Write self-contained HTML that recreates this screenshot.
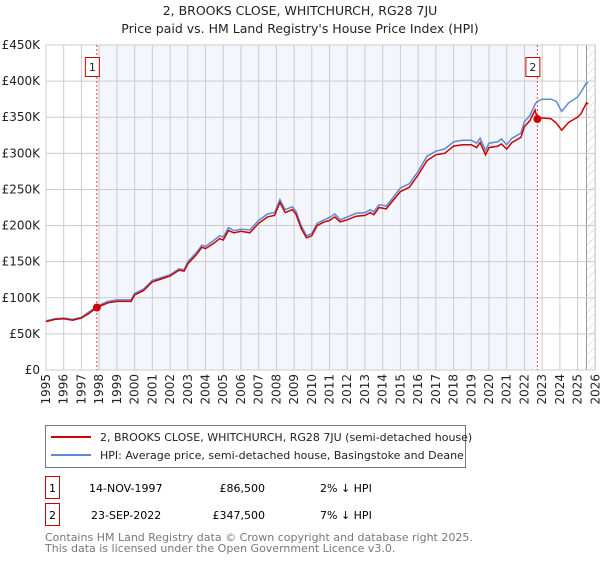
<!DOCTYPE html>
<html><head><meta charset="utf-8"><style>
body{margin:0;background:#fff;font-family:"DejaVu Sans","Liberation Sans",sans-serif;}
svg text{font-family:"DejaVu Sans","Liberation Sans",sans-serif;}
</style></head><body>
<svg id="chart" width="600" height="560" xmlns="http://www.w3.org/2000/svg">
<defs><pattern id="hatch" width="6" height="6" patternUnits="userSpaceOnUse" patternTransform="rotate(45)"><line x1="0" y1="0" x2="0" y2="6" stroke="#ccc" stroke-width="1"/></pattern></defs>
<text x="300" y="15" text-anchor="middle" font-size="12.5" fill="#222">2, BROOKS CLOSE, WHITCHURCH, RG28 7JU</text>
<text x="300" y="33" text-anchor="middle" font-size="12.5" fill="#222">Price paid vs. HM Land Registry's House Price Index (HPI)</text>
<g id="grid"></g><g id="series"></g><g id="axes"></g>
<rect x="45.5" y="425.5" width="420" height="42" fill="#fff" stroke="#777"/>
<g><line x1="51" y1="437" x2="91" y2="437" stroke="#cc0000" stroke-width="2"/><text x="100" y="441" font-size="11" fill="#222">2, BROOKS CLOSE, WHITCHURCH, RG28 7JU (semi-detached house)</text></g>
<g><line x1="51" y1="455" x2="91" y2="455" stroke="#5b8bd0" stroke-width="2"/><text x="100" y="459" font-size="11" fill="#222">HPI: Average price, semi-detached house, Basingstoke and Deane</text></g>
<g><rect x="45.5" y="476.5" width="14" height="22" fill="#fff" stroke="#c00"/><text x="52.5" y="492" text-anchor="middle" font-size="11">1</text><text x="89" y="492" font-size="11">14-NOV-1997</text><text x="265" y="492" text-anchor="end" font-size="11">£86,500</text><text x="320" y="492" font-size="11">2% ↓ HPI</text></g>
<g><rect x="45.5" y="503.5" width="14" height="22" fill="#fff" stroke="#c00"/><text x="52.5" y="519" text-anchor="middle" font-size="11">2</text><text x="91" y="519" font-size="11">23-SEP-2022</text><text x="265" y="519" text-anchor="end" font-size="11">£347,500</text><text x="320" y="519" font-size="11">7% ↓ HPI</text></g>
<text x="45" y="541" font-size="11" fill="#777">Contains HM Land Registry data © Crown copyright and database right 2025.</text>
<text x="45" y="552" font-size="11" fill="#777">This data is licensed under the Open Government Licence v3.0.</text>
</svg>
<script>
const years=[1995,1995.5,1996,1996.5,1997,1997.4,1997.87,1998.2,1998.5,1999,1999.5,1999.8,2000,2000.5,2001,2001.5,2002,2002.5,2002.8,2003,2003.5,2003.8,2004,2004.5,2004.8,2005,2005.3,2005.6,2006,2006.5,2007,2007.5,2007.9,2008.2,2008.5,2008.9,2009.1,2009.4,2009.7,2010,2010.3,2010.7,2011,2011.3,2011.6,2012,2012.5,2013,2013.3,2013.5,2013.8,2014.2,2014.5,2015,2015.5,2016,2016.5,2017,2017.5,2018,2018.5,2019,2019.3,2019.5,2019.8,2020,2020.5,2020.7,2021,2021.3,2021.8,2022,2022.3,2022.6,2022.73,2023,2023.5,2023.8,2024.1,2024.5,2025,2025.2,2025.5,2025.6];
const priceSeries=[67,70,71,69,72,78,86.5,90,93,95,95,95,104,110,122,126,130,138,137,147,160,170,168,176,182,180,193,190,192,190,203,212,214,232,218,222,216,196,183,186,200,205,207,212,205,208,213,214,218,215,225,223,232,247,253,270,290,298,300,310,312,312,308,315,298,308,310,313,306,315,322,337,345,360,347.5,349,348,342,332,343,350,355,370,368];
const hpiSeries=[68,71,72,70,73,80,88,92,95,97,97,97,106,112,124,128,132,140,139,150,163,173,171,180,186,184,197,193,195,194,207,216,218,236,222,226,220,200,186,189,203,208,211,216,208,212,217,218,222,219,229,227,236,252,258,275,296,303,306,316,318,318,314,321,304,314,316,320,312,321,328,344,352,368,372,375,375,372,358,370,378,385,398,398];
const yTicks=[0,50,100,150,200,250,300,350,400,450];
const xTicks=[1995,1996,1997,1998,1999,2000,2001,2002,2003,2004,2005,2006,2007,2008,2009,2010,2011,2012,2013,2014,2015,2016,2017,2018,2019,2020,2021,2022,2023,2024,2025,2026];
const saleDates=[1997.87,2022.73];
const salePrices=[86.5,347.5];
const NS="http://www.w3.org/2000/svg";
const X=y=>46+(y-1995)*17.72, Y=v=>370-v*(325/450);
function mk(t,a,p){const e=document.createElementNS(NS,t);for(const k in a)e.setAttribute(k,a[k]);p.appendChild(e);return e;}
const grid=document.getElementById('grid'),ser=document.getElementById('series'),ax=document.getElementById('axes');
const shade=mk('rect',{x:X(saleDates[0]),y:45,width:X(saleDates[1])-X(saleDates[0]),height:325,fill:'#f3f6fd'},grid);


const hatch=mk('rect',{x:X(2025.5),y:45,width:X(2026)-X(2025.5),height:325,fill:'url(#hatch)'},grid);


mk('line',{x1:X(2025.5),x2:X(2025.5),y1:45,y2:370,stroke:'#999','stroke-width':1},grid);
yTicks.forEach(v=>{mk('line',{x1:46,x2:595,y1:Y(v),y2:Y(v),stroke:'#ccc'},grid);
 const t=mk('text',{x:40,y:Y(v)+4,'text-anchor':'end','font-size':12,fill:'#222'},ax);t.textContent='£'+(v?v+'K':'0');
 
 });
xTicks.forEach(yr=>{mk('line',{x1:X(yr),x2:X(yr),y1:45,y2:370,stroke:'#ccc'},grid);
 const t=mk('text',{x:0,y:0,'text-anchor':'end','font-size':12,fill:'#222',transform:`translate(${X(yr)+4},374) rotate(-90)`},ax);t.textContent=yr;
 
 });
mk('rect',{x:46,y:45,width:549,height:325,fill:'none',stroke:'#ccc'},grid);
const pts=a=>a.map((v,i)=>X(years[i]).toFixed(1)+','+Y(v).toFixed(1)).join(' ');
const hl=mk('polyline',{points:pts(hpiSeries),fill:'none',stroke:'#5b8bd0','stroke-width':1.5},ser);


const pl=mk('polyline',{points:pts(priceSeries),fill:'none',stroke:'#cc0000','stroke-width':1.5},ser);


saleDates.forEach((d,i)=>{mk('line',{x1:X(d),x2:X(d),y1:45,y2:370,stroke:'#e44','stroke-dasharray':'2,2'},ser);
 const c=mk('circle',{cx:X(d),cy:Y(salePrices[i]),r:4,fill:'#cc0000'},ser);
 
 
 const r=mk('rect',{x:X(d)-11.5,y:57.5,width:14,height:19,fill:'#fff',stroke:'#c00'},ser);
 
 
 const t=mk('text',{x:X(d)-4.5,y:71,'text-anchor':'middle','font-size':11,fill:'#222'},ser);t.textContent=i+1;
 
 });
</script>
</body></html>
